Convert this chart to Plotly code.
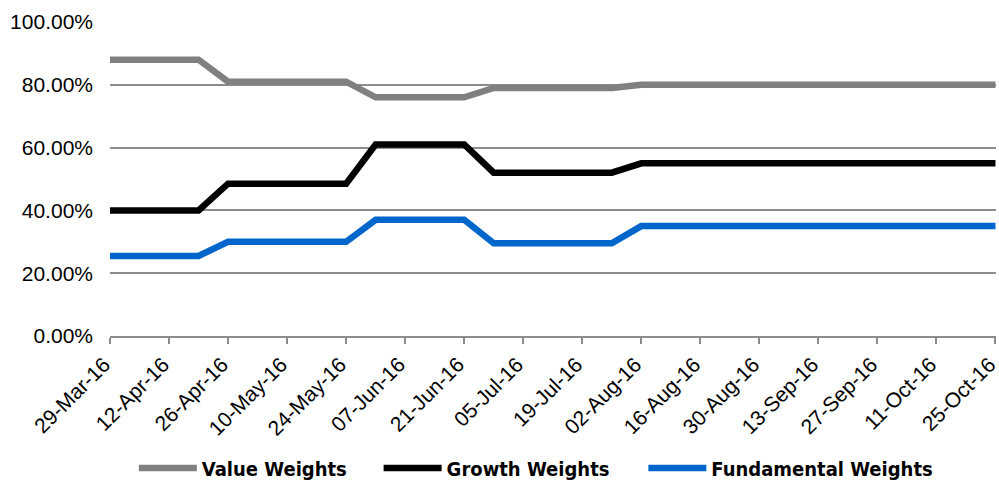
import plotly.graph_objects as go

dates = ["2016-03-29", "2016-04-05", "2016-04-12", "2016-04-19", "2016-04-26",
         "2016-05-03", "2016-05-10", "2016-05-17", "2016-05-24", "2016-05-31",
         "2016-06-07", "2016-06-14", "2016-06-21", "2016-06-28", "2016-07-05",
         "2016-07-12", "2016-07-19", "2016-07-26", "2016-08-02", "2016-08-09",
         "2016-08-16", "2016-08-23", "2016-08-30", "2016-09-06", "2016-09-13",
         "2016-09-20", "2016-09-27", "2016-10-04", "2016-10-11", "2016-10-18",
         "2016-10-25"]

value_weights = [0.88, 0.88, 0.88, 0.88, 0.81, 0.81, 0.81, 0.81, 0.81, 0.76,
                 0.76, 0.76, 0.76, 0.79, 0.79, 0.79, 0.79, 0.79, 0.80, 0.80,
                 0.80, 0.80, 0.80, 0.80, 0.80, 0.80, 0.80, 0.80, 0.80, 0.80,
                 0.80]
growth_weights = [0.40, 0.40, 0.40, 0.40, 0.485, 0.485, 0.485, 0.485, 0.485, 0.61,
                  0.61, 0.61, 0.61, 0.52, 0.52, 0.52, 0.52, 0.52, 0.55, 0.55,
                  0.55, 0.55, 0.55, 0.55, 0.55, 0.55, 0.55, 0.55, 0.55, 0.55,
                  0.55]
fundamental_weights = [0.255, 0.255, 0.255, 0.255, 0.30, 0.30, 0.30, 0.30, 0.30, 0.37,
                       0.37, 0.37, 0.37, 0.295, 0.295, 0.295, 0.295, 0.295, 0.35, 0.35,
                       0.35, 0.35, 0.35, 0.35, 0.35, 0.35, 0.35, 0.35, 0.35, 0.35,
                       0.35]

tick_dates = dates[::2]
tick_labels = ["29-Mar-16", "12-Apr-16", "26-Apr-16", "10-May-16", "24-May-16",
               "07-Jun-16", "21-Jun-16", "05-Jul-16", "19-Jul-16", "02-Aug-16",
               "16-Aug-16", "30-Aug-16", "13-Sep-16", "27-Sep-16", "11-Oct-16",
               "25-Oct-16"]
y_ticks = [0, 0.2, 0.4, 0.6, 0.8, 1.0]
y_labels = ["0.00%", "20.00%", "40.00%", "60.00%", "80.00%", "100.00%"]

series = [
    ("Value Weights", value_weights, "#808080", "legend", 0.134),
    ("Growth Weights", growth_weights, "#000000", "legend2", 0.379),
    ("Fundamental Weights", fundamental_weights, "#0066CC", "legend3", 0.644),
]

fig = go.Figure()
legend_font = dict(family="DejaVu Sans Condensed, Arial Narrow", size=20,
                   color="#000000", weight="bold")
legend_layouts = {}
for name, vals, color, leg, lx in series:
    fig.add_trace(go.Scatter(x=dates, y=vals, name=name, mode="lines",
                             line=dict(color=color, width=6.5), legend=leg))
    legend_layouts[leg] = dict(orientation="h", xref="container", yref="container",
                               x=lx, xanchor="left", y=0.033, yanchor="middle",
                               font=legend_font, itemwidth=58,
                               bgcolor="rgba(0,0,0,0)")

fig.update_layout(
    width=999, height=484,
    margin=dict(l=110, r=3, t=22, b=148, autoexpand=False),
    plot_bgcolor="white", paper_bgcolor="white",
    font=dict(family="Liberation Sans, Arial", color="#000000"),
    showlegend=True,
    xaxis=dict(type="date", range=["2016-03-29", "2016-10-25 03:00"],
               tickmode="array", tickvals=tick_dates, ticktext=tick_labels,
               tickangle=-45, tickfont=dict(size=21), automargin=False,
               ticklabeloverflow="allow", ticklabelshift=-6,
               showgrid=False, showline=True, linecolor="#8c8c8c", linewidth=2,
               ticks="outside", ticklen=6, tickwidth=2, tickcolor="#8c8c8c"),
    yaxis=dict(range=[0, 1.0], tickmode="array", tickvals=y_ticks, ticktext=y_labels,
               tickfont=dict(size=21), automargin=False,
               showgrid=True, gridcolor="#8c8c8c", gridwidth=1.5,
               zeroline=False, showline=False, ticks="", ticklabelstandoff=16),
    **legend_layouts,
)

fig.write_html("out.html")
